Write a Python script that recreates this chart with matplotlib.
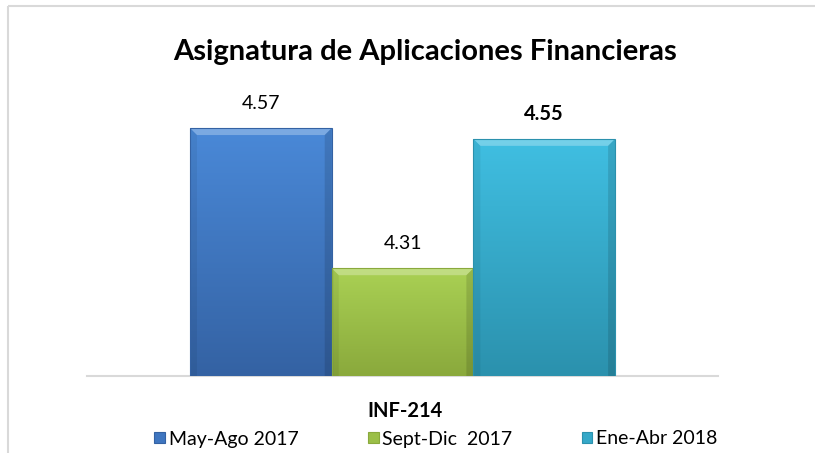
import numpy as np
import matplotlib
matplotlib.use("Agg")
import matplotlib.pyplot as plt
from matplotlib.patches import Rectangle, Polygon
from matplotlib.colors import LinearSegmentedColormap

plt.rcParams['font.family'] = ['Lato', 'DejaVu Sans']

# datos
title = "Asignatura de Aplicaciones Financieras"
category = "INF-214"
periods = ["May-Ago 2017", "Sept-Dic  2017", "Ene-Abr 2018"]
values = [4.57, 4.31, 4.55]
label_bold = [False, False, True]

# colores (arriba, abajo) para el degradado de cada barra
top_colors = ["#4A89D8", "#AAD154", "#40BFE2"]
bottom_colors = ["#3462A3", "#8AA93C", "#2B91AD"]
flat_colors = ["#3F76C0", "#9BBF48", "#35A8C8"]

W, H = 817, 453
fig = plt.figure(figsize=(W / 100, H / 100), dpi=100)

# borde del gráfico (solo arriba e izquierda visibles)
fig.add_artist(plt.Line2D([8 / W, 0.998], [1 - 6 / H, 1 - 6 / H], color="#d9d9d9", lw=1.5,
                          solid_capstyle="butt"))
fig.add_artist(plt.Line2D([8 / W, 8 / W], [0, 1 - 6 / H], color="#d9d9d9", lw=1.5,
                          solid_capstyle="butt"))

ax_l, ax_r, ax_b, ax_t = 87, 718, 376, 60
ax = fig.add_axes([ax_l / W, 1 - ax_b / H, (ax_r - ax_l) / W, (ax_b - ax_t) / H])

px_per_unit_y = 539.0
y0 = 4.11
ax.set_ylim(y0, y0 + (ax_b - ax_t) / px_per_unit_y)
px_per_unit_x = 141.7
xl = -0.5 - (190 - ax_l) / px_per_unit_x
ax.set_xlim(xl, xl + (ax_r - ax_l) / px_per_unit_x)

x = np.arange(len(values))
bars = ax.bar(x, [v - y0 for v in values], width=1.0, bottom=y0, color=flat_colors,
              edgecolor="none", zorder=2)

dx = 7 / px_per_unit_x
dy = 7 / px_per_unit_y
for i, b in enumerate(bars):
    x0 = b.get_x()
    x1 = x0 + b.get_width()
    top = values[i]
    cmap = LinearSegmentedColormap.from_list("g%d" % i, [bottom_colors[i], top_colors[i]])
    grad = np.linspace(0, 1, 256).reshape(-1, 1)
    im = ax.imshow(grad, cmap=cmap, origin="lower", aspect="auto",
                   extent=[x0, x1, y0, top], zorder=3)
    im.set_clip_path(b)
    # bisel superior
    ax.add_patch(Polygon([[x0, top], [x1, top], [x1 - dx, top - dy], [x0 + dx, top - dy]],
                         closed=True, facecolor="white", alpha=0.28, edgecolor="none", zorder=4))
    # biseles laterales
    ax.add_patch(Polygon([[x0, top], [x0 + dx, top - dy], [x0 + dx, y0], [x0, y0]],
                         closed=True, facecolor="black", alpha=0.06, edgecolor="none", zorder=4))
    ax.add_patch(Polygon([[x1, top], [x1 - dx, top - dy], [x1 - dx, y0], [x1, y0]],
                         closed=True, facecolor="black", alpha=0.12, edgecolor="none", zorder=4))
    ax.add_patch(Rectangle((x0, y0), x1 - x0, top - y0, facecolor="none",
                           edgecolor=bottom_colors[i], lw=0.8, zorder=5))
    ax.text(x[i], top + 25 / px_per_unit_y, "%.2f" % values[i], ha="center", va="center",
            fontsize=14.5 if label_bold[i] else 14,
            fontweight="bold" if label_bold[i] else "normal", color="#000000")

ax.set_xticks([])
ax.set_yticks([])
for s in ["top", "left", "right"]:
    ax.spines[s].set_visible(False)
ax.spines["bottom"].set_color("#d9d9d9")
ax.spines["bottom"].set_linewidth(1.5)
ax.patch.set_alpha(0)

fig.text(425 / W, 1 - 52 / H, title, ha="center", va="center", fontsize=21, fontweight="bold")
fig.text(405 / W, 1 - 411 / H, category, ha="center", va="center", fontsize=14.5, fontweight="bold")

handles = [Rectangle((0, 0), 1, 1, facecolor=flat_colors[i], edgecolor=bottom_colors[i], lw=0.8)
           for i in range(len(periods))]
fig.legend(handles, periods, loc="center", bbox_to_anchor=(436 / W, 1 - 439 / H), ncol=3,
           frameon=False, fontsize=14, handlelength=0.55, handleheight=0.55, handletextpad=0.2,
           columnspacing=3.55, borderaxespad=0)

fig.savefig("out.png", dpi=100)
